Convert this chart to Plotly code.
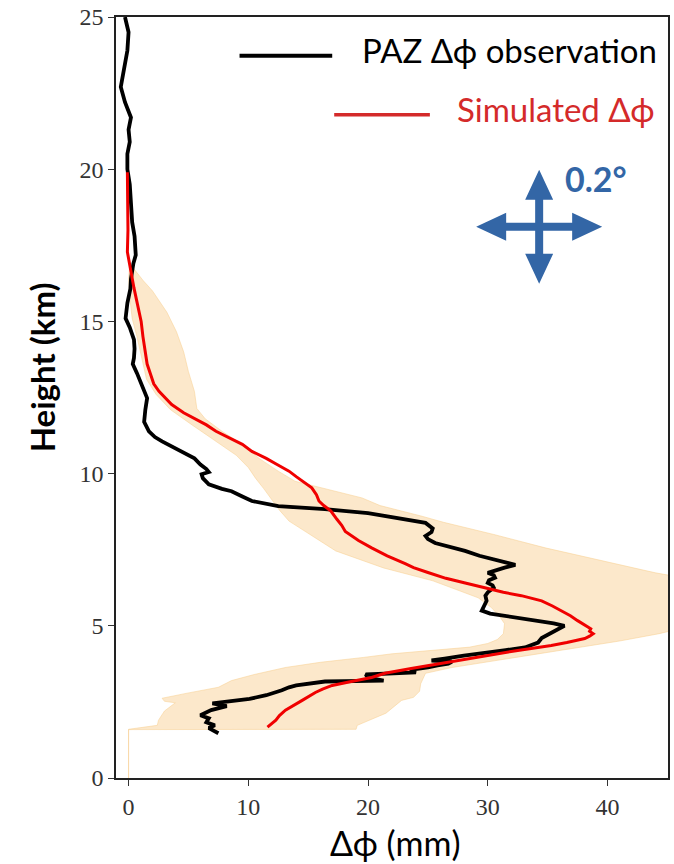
import plotly.graph_objects as go

# PAZ observed differential phase profile: height (km), delta-phi (mm)
obs_height = [25.0, 24.5, 23.9, 23.3, 22.7, 22.2, 21.7, 21.3, 20.9, 20.5, 20.0, 19.5, 19.0, 18.6,
              18.26, 17.8, 17.4, 17.18, 16.9, 16.7, 16.4, 16.07, 15.6, 15.1, 14.8, 14.4, 14.1, 13.8,
              13.6, 13.3, 12.9, 12.7, 12.48, 12.1, 11.7, 11.39, 11.2, 11.06, 10.9, 10.73, 10.5, 10.3,
              10.15, 10.05, 9.98, 9.85, 9.65, 9.5, 9.42, 9.25, 9.1, 8.93, 8.83, 8.7, 8.6, 8.45, 8.38,
              8.2, 8.08, 7.95, 7.85, 7.72, 7.6, 7.46, 7.3, 7.2, 7.1, 7.0, 6.91, 6.8, 6.74, 6.66, 6.58,
              6.5, 6.41, 6.33, 6.25, 6.1, 5.99, 5.82, 5.66, 5.5, 5.4, 5.33, 5.25, 5.17, 5.08, 5.0, 4.9,
              4.75, 4.6, 4.45, 4.29, 4.2, 4.12, 4.02, 3.92, 3.86, 3.82, 3.76, 3.7, 3.63, 3.55, 3.47,
              3.4, 3.3, 3.2, 3.17, 3.04, 2.98, 2.88, 2.72, 2.6, 2.45, 2.36, 2.23, 2.06, 1.96, 1.83,
              1.73, 1.64, 1.47]
obs_dphi = [-0.3, 0.0, -0.1, -0.4, -0.65, -0.3, 0.2, 0.0, 0.1, -0.1, -0.1, 0.1, 0.2, 0.3,
            0.3, 0.5, 0.6, 0.6, 0.4, 0.3, 0.2, 0.15, -0.1, -0.25, 0.1, 0.45, 0.5, 0.45,
            0.35, 0.7, 1.15, 1.3, 1.55, 1.4, 1.3, 1.7, 2.2, 2.8, 3.6, 4.46, 5.5, 6.0,
            6.5, 6.7, 6.1, 6.2, 6.7, 7.8, 8.6, 9.5, 10.3, 12.5, 16.4, 20.0, 21.5, 24.0, 24.8,
            25.4, 25.3, 24.8, 25.0, 25.6, 26.8, 28.1, 29.3, 30.3, 31.5, 32.3, 31.4, 30.3, 30.0, 30.5, 30.6,
            30.1, 30.0, 30.4, 30.5, 30.0, 29.8, 29.9, 29.7, 29.5, 30.2, 31.4, 32.8, 34.2, 35.5, 36.4, 35.9,
            35.2, 34.5, 34.2, 33.1, 31.5, 29.8, 28.0, 26.4, 25.3, 27.0, 26.7, 25.8, 25.0, 23.5, 24.0,
            19.8, 20.0, 21.3, 16.4, 14.0, 13.4, 12.8, 11.5, 10.1, 7.0, 8.2, 6.9, 6.0, 6.7, 6.5,
            7.2, 6.7, 7.5]

# Simulated differential phase profile
sim_height = [19.9, 19.0, 18.0, 17.28, 16.85, 16.6, 16.1, 15.64, 15.0, 14.5, 14.0, 13.6, 13.25, 12.95,
              12.7, 12.5, 12.27, 12.0, 11.8, 11.6, 11.39, 11.2, 10.96, 10.73, 10.5, 10.3, 10.08, 9.9,
              9.75, 9.53, 9.3, 9.1, 8.95, 8.77, 8.5, 8.3, 8.1, 7.8, 7.56, 7.3, 7.04, 6.91, 6.75, 6.56,
              6.4, 6.25, 6.1, 5.99, 5.82, 5.65, 5.5, 5.33, 5.17, 5.03, 4.9, 4.82, 4.74, 4.66, 4.58,
              4.45, 4.35, 4.19, 4.08, 3.96, 3.86, 3.76, 3.6, 3.44, 3.3, 3.17, 3.04, 2.92, 2.81, 2.55,
              2.4, 2.23, 2.05, 1.9, 1.67]
sim_dphi = [-0.1, -0.05, -0.05, -0.1, 0.1, 0.18, 0.45, 0.7, 1.05, 1.2, 1.37, 1.55, 1.85, 2.1,
            2.54, 3.0, 3.6, 4.6, 5.6, 6.5, 7.3, 8.3, 9.5, 10.3, 11.5, 12.4, 13.4, 14.0,
            14.5, 15.3, 15.7, 15.9, 16.3, 16.9, 17.4, 17.8, 18.1, 19.2, 20.3, 21.6, 23.1, 23.8, 25.0, 26.5,
            28.2, 29.8, 31.3, 32.8, 34.5, 35.4, 36.1, 36.9, 37.5, 38.1, 38.6, 38.5, 38.8, 38.5, 38.1,
            36.6, 35.3, 32.5, 30.8, 29.2, 27.5, 25.9, 23.6, 21.4, 20.3, 18.6, 17.0, 16.2, 15.6, 14.5,
            13.8, 13.1, 12.6, 12.3, 11.6]

# Spread of the simulation ensemble: lower and upper bounds
band_low_height = [16.9, 16.4, 15.8, 15.1, 14.5, 14.0, 13.5, 13.1, 12.6, 12.1, 11.6, 11.06, 10.6,
                   10.2, 9.85, 9.5, 9.1, 8.8, 8.44, 8.0, 7.46, 6.9, 6.48, 6.2, 5.92, 5.6, 5.3,
                   5.07, 4.74, 4.55, 4.42, 4.3, 4.19, 4.08, 3.96, 3.8, 3.63, 3.4, 3.2, 2.98, 2.78,
                   2.62, 2.52, 2.47, 2.2, 1.9, 1.73, 1.6, 0.0]
band_low_dphi = [0.1, 0.0, 0.1, 0.3, 0.7, 1.0, 1.25, 1.5, 2.3, 3.5, 5.3, 7.3, 9.0,
                 10.0, 10.6, 11.3, 12.0, 12.6, 13.4, 15.2, 17.3, 21.3, 25.4, 27.3, 29.2, 30.3, 31.0,
                 31.4, 31.3, 30.8, 30.0, 28.5, 25.0, 22.0, 19.6, 16.0, 13.1, 10.5, 8.6, 7.5, 4.8,
                 2.8, 3.0, 3.9, 3.0, 2.5, 2.4, 0.0, 0.0]
band_high_height = [16.9, 16.7, 16.35, 16.0, 15.6, 15.3, 14.66, 14.0, 13.35, 12.7, 12.14, 11.8,
                    11.39, 10.96, 10.5, 10.08, 9.75, 9.5, 9.2, 8.95, 8.6, 8.4, 8.0, 7.56, 7.07,
                    6.74, 6.6, 5.8, 4.9, 4.74, 4.5, 4.29, 3.96, 3.63, 3.44, 3.1, 2.85, 2.65,
                    2.55, 2.13, 1.73, 1.6, 1.59, 0.0]
band_high_dphi = [0.1, 0.46, 1.2, 2.0, 2.7, 3.2, 4.0, 4.6, 5.0, 5.5, 5.7, 6.4,
                  7.8, 9.5, 10.9, 12.5, 13.9, 16.5, 19.5, 21.0, 24.5, 26.3, 30.5, 34.8, 40.3,
                  44.0, 46.0, 46.5, 46.0, 44.3, 41.0, 37.6, 32.2, 27.0, 24.8, 24.4, 24.3, 23.8,
                  22.8, 21.5, 19.1, 19.0, 0.0, 0.0]

y_ticks = [0, 5, 10, 15, 20, 25]
x_ticks = [0, 10, 20, 30, 40]

fig = go.Figure()

# shaded ensemble spread as a closed polygon: down the low edge, back up the high edge
fig.add_trace(go.Scatter(
    x=band_low_dphi + band_high_dphi[::-1],
    y=band_low_height + band_high_height[::-1],
    mode="lines", fill="toself",
    fillcolor="rgba(250,214,160,0.55)",
    line=dict(color="rgba(248,205,140,0.5)", width=1),
    hoverinfo="skip", showlegend=False,
))
fig.add_trace(go.Scatter(
    x=obs_dphi, y=obs_height, mode="lines", name="PAZ Δϕ observation",
    line=dict(color="black", width=3.8), showlegend=False,
))
fig.add_trace(go.Scatter(
    x=sim_dphi, y=sim_height, mode="lines", name="Simulated Δϕ",
    line=dict(color="#f00000", width=3.0), showlegend=False,
))

tick_font = dict(family="Liberation Serif", size=24, color="#333333")
axis_common = dict(
    showline=True, linecolor="#222222", linewidth=1.5, mirror=True,
    ticks="outside", ticklen=6, tickwidth=1.3, tickcolor="#333333",
    showgrid=False, zeroline=False, tickfont=tick_font,
)

fig.update_layout(
    width=674, height=864,
    margin=dict(l=116, r=4, t=14, b=86),
    paper_bgcolor="white", plot_bgcolor="white",
    xaxis=dict(range=[-1.05, 45.05], tickvals=x_ticks, **axis_common),
    yaxis=dict(range=[0, 25], tickvals=y_ticks, **axis_common),
    showlegend=False,
)

label_font = "Lato, Noto Sans, sans-serif"
blue = "#3366a6"
red_text = "#d42a2a"

# axis titles
fig.add_annotation(xref="paper", yref="paper", x=-0.1336, y=0.540, xanchor="center", yanchor="middle",
                   text="Height (km)", textangle=-90, showarrow=False,
                   font=dict(family=label_font, size=33, color="black", weight="bold"))
fig.add_annotation(xref="paper", yref="paper", x=0.507, y=-0.085, xanchor="center", yanchor="middle",
                   text="Δϕ (mm)", showarrow=False,
                   font=dict(family=label_font, size=34, color="black"))

# legend entries, right aligned with their sample lines
fig.add_shape(type="line", xref="paper", yref="paper", x0=0.2238, x1=0.3917, y0=0.949, y1=0.949,
              line=dict(color="black", width=4))
fig.add_annotation(xref="paper", yref="paper", x=0.984, y=0.9565, xanchor="right", yanchor="middle",
                   text="PAZ Δϕ observation", showarrow=False,
                   font=dict(family=label_font, size=33, color="black"))
fig.add_shape(type="line", xref="paper", yref="paper", x0=0.3953, x1=0.5686, y0=0.8717, y1=0.8717,
              line=dict(color=red_text, width=3.5))
fig.add_annotation(xref="paper", yref="paper", x=0.980, y=0.8790, xanchor="right", yanchor="middle",
                   text="Simulated Δϕ", showarrow=False,
                   font=dict(family=label_font, size=33, color=red_text))

# four-way scale arrow with its 0.2 degree label
t, lh, lv, hl, hw = 4, 63, 57, 30, 14
pts = [(0, lv), (hw, lv - hl), (t, lv - hl), (t, t), (lh - hl, t), (lh - hl, hw), (lh, 0),
       (lh - hl, -hw), (lh - hl, -t), (t, -t), (t, -(lv - hl)), (hw, -(lv - hl)), (0, -lv),
       (-hw, -(lv - hl)), (-t, -(lv - hl)), (-t, -t), (-(lh - hl), -t), (-(lh - hl), -hw),
       (-lh, 0), (-(lh - hl), hw), (-(lh - hl), t), (-t, t), (-t, lv - hl), (-hw, lv - hl)]
path = "M " + " L ".join(f"{px},{py}" for px, py in pts) + " Z"
fig.add_shape(type="path", xref="x", yref="y", xsizemode="pixel", ysizemode="pixel",
              xanchor=34.29, yanchor=18.11, path=path,
              fillcolor=blue, line=dict(color=blue, width=0))
fig.add_annotation(xref="x", yref="y", x=36.3, y=19.7, xanchor="left", yanchor="middle", text="0.2°",
                   showarrow=False, font=dict(family=label_font, size=34, color=blue, weight="bold"))

fig.write_html("out.html")
